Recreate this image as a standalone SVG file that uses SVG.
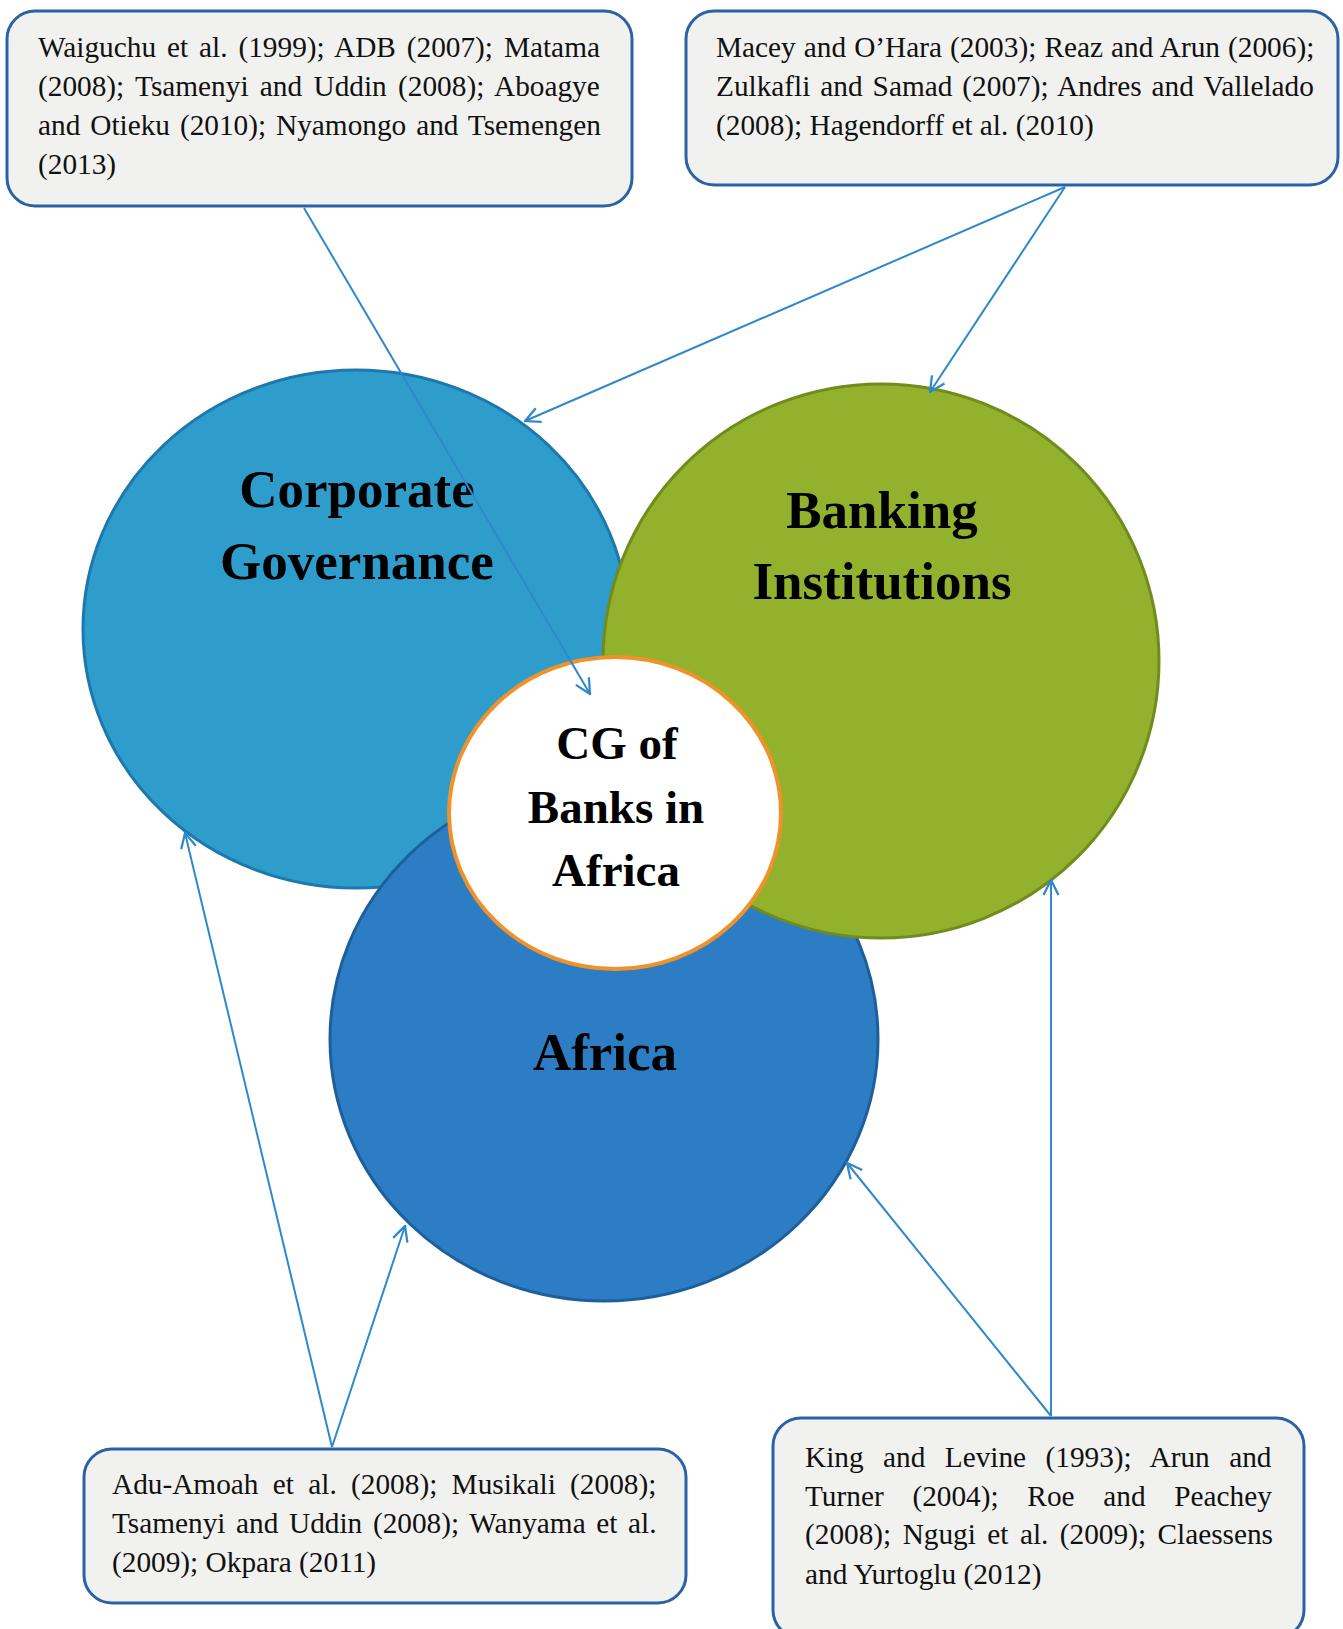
<svg xmlns="http://www.w3.org/2000/svg" width="1343" height="1629" viewBox="0 0 1343 1629">
<style>
.box{fill:#f1f1ef;stroke:#2b62a6;stroke-width:3}
.ref{font-family:"Liberation Serif","Times New Roman",serif;font-size:29.3px;fill:#111}
.big{font-family:"Liberation Serif","Times New Roman",serif;font-size:53px;font-weight:bold;fill:#000;text-anchor:middle}
.mid{font-family:"Liberation Serif","Times New Roman",serif;font-size:47px;font-weight:bold;fill:#000;text-anchor:middle}
.con{stroke:#2f88cc;stroke-width:2;fill:none;marker-end:url(#ah)}
</style>
<defs>
<marker id="ah" viewBox="0 0 12 12" refX="11" refY="6" markerWidth="18" markerHeight="18" markerUnits="userSpaceOnUse" orient="auto">
<path d="M1,1 L11,6 L1,11" fill="none" stroke="#2f88cc" stroke-width="1.5"/>
</marker>
</defs>
<rect width="1343" height="1629" fill="#ffffff"/>

<g id="node-tl">
<rect class="box" x="7" y="11" width="625" height="195" rx="28"/>
<text class="ref"><tspan x="38" y="57" word-spacing="3.6">Waiguchu et al. (1999); ADB (2007); Matama</tspan><tspan x="38" y="96" word-spacing="4.0">(2008); Tsamenyi and Uddin (2008); Aboagye</tspan><tspan x="38" y="135" word-spacing="2.6">and Otieku (2010); Nyamongo and Tsemengen</tspan><tspan x="38" y="174">(2013)</tspan></text>
</g>

<g id="node-tr">
<rect class="box" x="686" y="11" width="652" height="174" rx="28"/>
<text class="ref"><tspan x="716" y="57" word-spacing="0.75">Macey and O’Hara (2003); Reaz and Arun (2006);</tspan><tspan x="716" y="96" word-spacing="2.65">Zulkafli and Samad (2007); Andres and Vallelado</tspan><tspan x="716" y="135">(2008); Hagendorff et al. (2010)</tspan></text>
</g>

<g id="node-bl">
<rect class="box" x="84" y="1449" width="602" height="154" rx="28"/>
<text class="ref"><tspan x="112" y="1494" word-spacing="7.0">Adu-Amoah et al. (2008); Musikali (2008);</tspan><tspan x="112" y="1533" word-spacing="3.3">Tsamenyi and Uddin (2008); Wanyama et al.</tspan><tspan x="112" y="1572">(2009); Okpara (2011)</tspan></text>
</g>

<g id="node-br">
<rect class="box" x="773" y="1418" width="531" height="220" rx="28"/>
<text class="ref"><tspan x="805" y="1467" word-spacing="12.1">King and Levine (1993); Arun and</tspan><tspan x="805" y="1506" word-spacing="21.4">Turner (2004); Roe and Peachey</tspan><tspan x="805" y="1544" word-spacing="4.1">(2008); Ngugi et al. (2009); Claessens</tspan><tspan x="805" y="1584">and Yurtoglu (2012)</tspan></text>
</g>

<g id="node-cg">
<ellipse cx="356" cy="629" rx="273" ry="259" fill="#2e9dcc" stroke="#1d78ad" stroke-width="3"/>
<text class="big" x="357" y="507">Corporate</text>
<text class="big" x="357" y="579">Governance</text>
</g>

<g id="node-africa">
<ellipse cx="604" cy="1039" rx="274" ry="262" fill="#2c7dc3" stroke="#1c5f9c" stroke-width="3"/>
<text class="big" x="605" y="1070">Africa</text>
</g>

<g id="node-bank">
<ellipse cx="881" cy="661" rx="278" ry="277" fill="#92b12d" stroke="#6f8c1c" stroke-width="3"/>
<text class="big" x="882" y="528">Banking</text>
<text class="big" x="882" y="599">Institutions</text>
</g>

<g id="node-center">
<ellipse cx="615" cy="813" rx="166" ry="156" fill="#ffffff" stroke="#f0922a" stroke-width="4"/>
<text class="mid" x="617" y="759">CG of</text>
<text class="mid" x="616" y="823">Banks in</text>
<text class="mid" x="616" y="886">Africa</text>
</g>

<g id="connectors">
<line class="con" x1="304" y1="208" x2="590" y2="694"/>
<line class="con" x1="1065" y1="187" x2="525" y2="421"/>
<line class="con" x1="1065" y1="187" x2="930" y2="392"/>
<line class="con" x1="332" y1="1447" x2="185" y2="833"/>
<line class="con" x1="332" y1="1447" x2="405" y2="1226"/>
<line class="con" x1="1051" y1="1416" x2="1051" y2="880"/>
<line class="con" x1="1051" y1="1416" x2="847" y2="1163"/>
</g>
</svg>
